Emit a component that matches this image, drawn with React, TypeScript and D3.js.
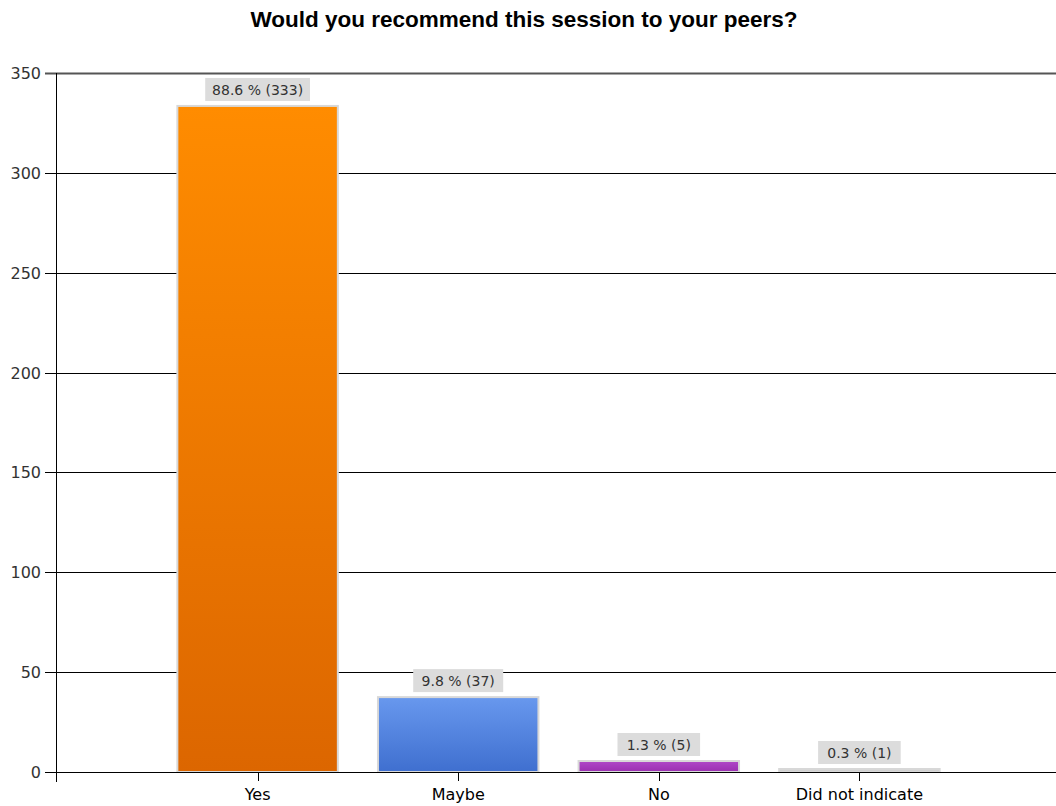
import React from "react";
import * as d3 from "d3";

const categories = ["Yes", "Maybe", "No", "Did not indicate"];
const counts = [333, 37, 5, 1];
const percents = ["88.6", "9.8", "1.3", "0.3"];
const yTicks = [0, 50, 100, 150, 200, 250, 300, 350];
const colorsTop = ["#ff8c00", "#6898ee", "#b048c8", "#d8d8d8"];
const colorsBottom = ["#dc6600", "#3f6fcf", "#9a30b0", "#c8c8c8"];

const W = 1056;
const H = 806;
const top = 73;
const zeroY = 772;

export default function App() {
  const y = d3.scaleLinear().domain([0, 350]).range([zeroY, top]);
  const x = d3.scaleLinear().domain([0, 5]).range([57, 1060]);
  const band = x(1) - x(0);
  const barW = band * 0.8;
  const font = "Tahoma, 'DejaVu Sans', sans-serif";

  return (
    <svg width={W} height={H} style={{ position: "absolute", left: 0, top: 0, background: "#fff" }}>
      <defs>
        {categories.map((c, i) => (
          <linearGradient key={c} id={`g${i}`} x1="0" y1="0" x2="0" y2="1">
            <stop offset="0%" stopColor={colorsTop[i]} />
            <stop offset="100%" stopColor={colorsBottom[i]} />
          </linearGradient>
        ))}
      </defs>
      <text x={524} y={27} textAnchor="middle" fontFamily="'Liberation Sans', Arial, sans-serif" fontWeight="bold" fontSize={22.5} fill="#000">
        Would you recommend this session to your peers?
      </text>
      {yTicks.map((t) => (
        <g key={t}>
          <line
            x1={45}
            x2={t === 350 ? W : 56}
            y1={Math.round(y(t)) + 0.5}
            y2={Math.round(y(t)) + 0.5}
            stroke={t === 350 ? "#555" : "#000"}
            strokeWidth={t === 350 ? 2 : 1}
          />
          {t !== 350 && t !== 0 && (
            <line x1={56} x2={W} y1={Math.round(y(t)) + 0.5} y2={Math.round(y(t)) + 0.5} stroke="#000" strokeWidth={1} />
          )}
          <text x={41} y={y(t) + 6} textAnchor="end" fontFamily={font} fontSize={16} fill="#333">
            {t}
          </text>
        </g>
      ))}
      {categories.map((c, i) => {
        const cx = x(i + 1);
        const by = y(counts[i]);
        const h = zeroY - by;
        const label = `${percents[i]} % (${counts[i]})`;
        const lw = label.length * 7.4 + 16;
        return (
          <g key={c}>
            <rect x={cx - barW / 2} y={by - 1} width={barW} height={h + 1} fill={`url(#g${i})`} stroke="#d8d8d8" strokeWidth={2} />
            <rect x={cx - lw / 2} y={by - 29} width={lw} height={23} fill="#dcdcdc" />
            <text x={cx} y={by - 12} textAnchor="middle" fontFamily={font} fontSize={14} fill="#333">
              {label}
            </text>
            <line x1={Math.round(cx) + 0.5} x2={Math.round(cx) + 0.5} y1={zeroY} y2={781} stroke="#000" />
            <text x={cx} y={800} textAnchor="middle" fontFamily={font} fontSize={16} fill="#000">
              {c}
            </text>
          </g>
        );
      })}
      <line x1={45} x2={W} y1={zeroY + 0.5} y2={zeroY + 0.5} stroke="#000" />
      <line x1={56.5} x2={56.5} y1={top} y2={782} stroke="#000" />
    </svg>
  );
}
